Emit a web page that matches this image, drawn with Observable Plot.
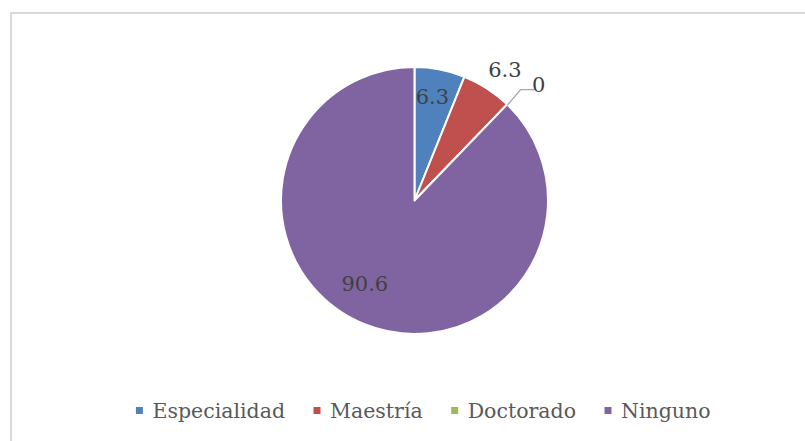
<!DOCTYPE html>
<html>
<head>
<meta charset="utf-8">
<script src="https://cdn.jsdelivr.net/npm/d3@7"></script>
<script src="https://cdn.jsdelivr.net/npm/@observablehq/plot@0.6"></script>
<style>
  html, body { margin: 0; padding: 0; background: #fff; }
  #wrap { position: relative; width: 805px; height: 441px; overflow: hidden; }
  #frame { position: absolute; left: 10px; top: 12px; width: 900px; height: 500px;
           border-top: 2px solid #d9d9d9; border-left: 2px solid #d9d9d9; }
  #chart { position: absolute; left: 0; top: 0; }
</style>
</head>
<body>
<div id="wrap"><div id="frame"></div><div id="chart"></div></div>
<script>
// ---- data ----
const categories = ["Especialidad", "Maestría", "Doctorado", "Ninguno"];
const values = [6.3, 6.3, 0, 90.6];
const labels = ["6.3", "6.3", "0", "90.6"];
const colors = ["#4F81BD", "#C0504D", "#9BBB59", "#8064A2"];

// ---- layout ----
const W = 805, H = 441;
const CX = 414.5, CY = 200.5, R = 133.5;
const labelRadius = [0.79, 1.19, 1.15, 0.73];   // fraction of radius
const labelAngleShift = [-1.5, 1.5, 0, 9];      // degrees, "best fit" placement
const labelFont = "DejaVu Serif";
const legendFontSize = 20.5, labelFontSize = 21;
const legendY = 410.5, legendCenter = 423;
const sw = 7, swGap = 9, itemGap = 29;

const arcs = d3.pie().sort(null).value(d => d)(values);
const rad = Math.PI / 180;
const polar = (a, r) => [CX + Math.sin(a) * r, CY - Math.cos(a) * r];

// labels
const labelData = arcs.map((a, i) => {
  const mid = (a.startAngle + a.endAngle) / 2 + labelAngleShift[i] * rad;
  const [x, y] = polar(mid, labelRadius[i] * R);
  return { i, x, y, text: labels[i], value: values[i] };
});
// zero-value slice gets a leader line
const leader = [];
labelData.forEach(d => {
  if (d.value === 0) {
    const a = arcs[d.i].startAngle;
    const p0 = polar(a, R);
    const p1 = polar(a - 0.5 * rad, R * 1.15);
    const p2 = [p1[0] + 14, p1[1]];
    leader.push({ x: p0[0], y: p0[1] }, { x: p1[0], y: p1[1] }, { x: p2[0], y: p2[1] });
    d.x = p2[0] + 4; d.y = p2[1] - 4; d.anchor = "start";
  } else d.anchor = "middle";
});

// legend layout via text measurement
const ctx = document.createElement("canvas").getContext("2d");
ctx.font = `${legendFontSize}px "${labelFont}"`;
const widths = categories.map(c => ctx.measureText(c).width);
const total = widths.reduce((s, w) => s + sw + swGap + w, 0) + itemGap * (categories.length - 1);
let cursor = legendCenter - total / 2;
const legendData = categories.map((c, i) => {
  const item = { name: c, color: colors[i], x1: cursor, x2: cursor + sw, tx: cursor + sw + swGap };
  cursor += sw + swGap + widths[i] + itemGap;
  return item;
});

function pieMark(index, scales) {
  const sx = scales && scales.x ? scales.x : (v => v);
  const sy = scales && scales.y ? scales.y : (v => v);
  const cx = sx(CX), cy = sy(CY), rr = sx(CX + R) - sx(CX);
  const g = d3.create("svg:g").attr("transform", `translate(${cx},${cy})`);
  g.selectAll("path").data(arcs).join("path")
    .attr("d", d3.arc().innerRadius(0).outerRadius(rr))
    .attr("fill", d => colors[d.index])
    .attr("stroke", "#ffffff")
    .attr("stroke-width", 2)
    .attr("stroke-linejoin", "round");
  return g.node();
}

const plot = Plot.plot({
  width: W, height: H,
  marginTop: 0, marginRight: 0, marginBottom: 0, marginLeft: 0,
  x: { domain: [0, W], range: [0, W], axis: null },
  y: { domain: [0, H], range: [0, H], axis: null },
  style: { background: "transparent", fontFamily: labelFont, overflow: "visible" },
  marks: [
    pieMark,
    Plot.line(leader, { x: "x", y: "y", stroke: "#a6a6a6", strokeWidth: 1.3 }),
    Plot.text(labelData, { x: "x", y: "y", text: "text", textAnchor: d => d.anchor,
      fill: "#404040", fontSize: labelFontSize, fontFamily: labelFont }),
    Plot.rect(legendData, { x1: "x1", x2: "x2", y1: legendY - sw / 2, y2: legendY + sw / 2, fill: "color" }),
    Plot.text(legendData, { x: "tx", y: legendY, text: "name", textAnchor: "start",
      fill: "#595959", fontSize: legendFontSize, fontFamily: labelFont })
  ],
  color: { type: "identity" }
});
document.getElementById("chart").appendChild(plot);
</script>
</body>
</html>
